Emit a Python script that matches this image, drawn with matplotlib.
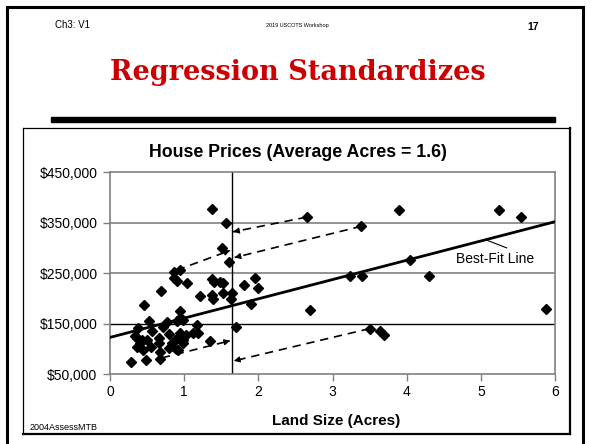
import matplotlib
matplotlib.use("Agg")
import matplotlib.pyplot as plt
from matplotlib.lines import Line2D
from matplotlib.patches import Rectangle

# ---------------- data ----------------
acres = [1.38, 1.56, 1.51, 1.61, 0.86, 0.95, 0.86, 0.91, 1.04, 1.38, 1.40, 1.48, 1.52,
         1.80, 1.96, 2.00, 0.69, 1.21, 1.37, 1.39, 1.52, 1.64, 1.63, 1.90, 0.46, 2.70,
         0.95, 0.53, 0.38, 0.56, 0.72, 0.77, 0.90, 0.94, 0.98, 1.17, 1.70, 0.34, 0.37,
         0.50, 0.37, 0.45, 0.55, 0.66, 0.66, 0.67, 0.80, 0.80, 0.88, 0.88, 0.92, 0.94,
         0.99, 0.95, 1.03, 0.99, 1.12, 1.19, 1.35, 0.28, 0.49, 0.67, 2.65, 3.90, 5.24,
         5.54, 3.39, 4.04, 3.24, 3.40, 4.30, 5.88, 3.51, 3.64, 3.69, 0.43, 0.40, 0.83]
prices = [377, 350, 300, 272, 253, 256, 240, 234, 230, 238, 232, 233, 230,
          226, 241, 221, 215, 205, 207, 198, 211, 211, 198, 188, 187, 176,
          174, 156, 141, 135, 144, 153, 155, 162, 157, 147, 144, 125, 121,
          117, 104, 98, 103, 121, 112, 94, 129, 101, 117, 101, 98, 131,
          117, 125, 127, 112, 132, 132, 116, 74, 78, 79, 361, 375, 375,
          362, 343, 276, 245, 245, 245, 178, 139, 135, 127, 117, 111, 111]
prices = [p * 1000 for p in prices]

fit_x = [0, 6]
fit_y = [122600, 352000]
mean_acres = 1.64
ref_price = 150000

arrow_start_x = [2.65, 3.39, 0.90, 0.70, 3.50]
arrow_start_y = [361000, 343000, 256000, 82000, 140000]
arrow_end_x = [1.66, 1.68, 1.62, 1.62, 1.67]
arrow_end_y = [332000, 281000, 295000, 116000, 76000]

y_ticks = [50000, 150000, 250000, 350000, 450000]
y_tick_labels = ["$50,000", "$150,000", "$250,000", "$350,000", "$450,000"]
x_ticks = [0, 1, 2, 3, 4, 5, 6]

# label of the fitted line and its leader
fit_label = "Best-Fit Line"
fit_label_pos = (4.67, 278000)
leader_from = (5.07, 316000)
leader_to = (5.35, 300000)

# ---------------- figure ----------------
W, H = 591, 444
fig = plt.figure(figsize=(W / 100, H / 100), dpi=100)
plt.rcParams['font.family'] = ['Liberation Sans', 'DejaVu Sans']

def fx(px):
    return px / W

def fy(py):
    return 1 - py / H

# slide border
fig.add_artist(Line2D([fx(7), fx(7)], [fy(7), fy(444)], color='black', lw=2.2))
fig.add_artist(Line2D([fx(7), fx(583)], [fy(7), fy(7)], color='black', lw=2.2))
fig.add_artist(Line2D([fx(583), fx(583)], [fy(7), fy(444)], color='black', lw=2.2))

# header texts
fig.text(fx(55), fy(25), "Ch3: V1", fontsize=7, va='center', ha='left')
fig.text(fx(297), fy(25), "2019 USCOTS Workshop", fontsize=4, va='center', ha='center')
fig.text(fx(533), fy(27), "17", fontsize=7.5, fontweight='bold', va='center', ha='center')

fig.text(fx(298), fy(73), "Regression Standardizes", fontsize=19.5, fontweight='bold',
         family='DejaVu Serif', color='#CC0000', va='center', ha='center')

# thick bar
fig.add_artist(Rectangle((fx(51), fy(122)), fx(555) - fx(51), 5 / H, color='black',
                         transform=fig.transFigure))

# chart frame
fig.add_artist(Line2D([fx(23), fx(570)], [fy(128), fy(128)], color='black', lw=0.9))
fig.add_artist(Line2D([fx(23), fx(23)], [fy(128), fy(434)], color='black', lw=0.9))
fig.add_artist(Line2D([fx(570), fx(570)], [fy(128), fy(434)], color='black', lw=1.6))
fig.add_artist(Line2D([fx(23), fx(570)], [fy(434), fy(434)], color='black', lw=1.6))

# axes
ax = fig.add_axes([fx(110), fy(374), fx(555) - fx(110), fy(172.3) - fy(374)])
ax.set_xlim(0, 6)
ax.set_ylim(50000, 450000)
ax.set_xticks(x_ticks)
ax.set_xticklabels([str(t) for t in x_ticks], fontsize=10)
ax.set_yticks(y_ticks)
ax.set_yticklabels(y_tick_labels, fontsize=10)
for s in ax.spines.values():
    s.set_color('#808080')
    s.set_linewidth(1.2)
ax.tick_params(axis='both', color='#808080', length=5, width=1, pad=3)
ax.tick_params(axis='y', pad=4)

for yv in [250000, 350000]:
    ax.axhline(yv, color='#808080', lw=1.2, zorder=1)
ax.axhline(ref_price, color='black', lw=1.0, zorder=1)
ax.axvline(mean_acres, color='black', lw=1.0, zorder=1)

ax.plot(fit_x, fit_y, color='black', lw=2.0, zorder=3)

for x0, y0, x1, y1 in zip(arrow_start_x, arrow_start_y, arrow_end_x, arrow_end_y):
    ax.plot([x0, x1], [y0, y1], color='black', lw=1.2, ls=(0, (5, 3.5)), zorder=2)
    dx = (x1 - x0) * 0.02
    dy = (y1 - y0) * 0.02
    ax.annotate("", xy=(x1, y1), xytext=(x1 - dx, y1 - dy),
                arrowprops=dict(arrowstyle='-|>', color='black', lw=0.8,
                                mutation_scale=9, shrinkA=0, shrinkB=0), zorder=2)

ax.plot(acres, prices, ls='none', marker='D', ms=5.5, color='black', zorder=4)

fig.text(fx(298), fy(152), "House Prices (Average Acres = 1.6)", fontsize=12.8,
         fontweight='bold', ha='center', va='center')
fig.text(fx(336), fy(421), "Land Size (Acres)", fontsize=11, fontweight='bold',
         ha='center', va='center')

# best-fit label with leader
ax.annotate("", xy=leader_from, xytext=leader_to,
            arrowprops=dict(arrowstyle='-', color='black', lw=0.8, shrinkA=0, shrinkB=0))
ax.text(fit_label_pos[0], fit_label_pos[1], fit_label, fontsize=10, va='center', ha='left')

fig.text(fx(30), fy(427), "2004AssessMTB", fontsize=6.5, va='center', ha='left')

fig.savefig("out.png", dpi=100)
